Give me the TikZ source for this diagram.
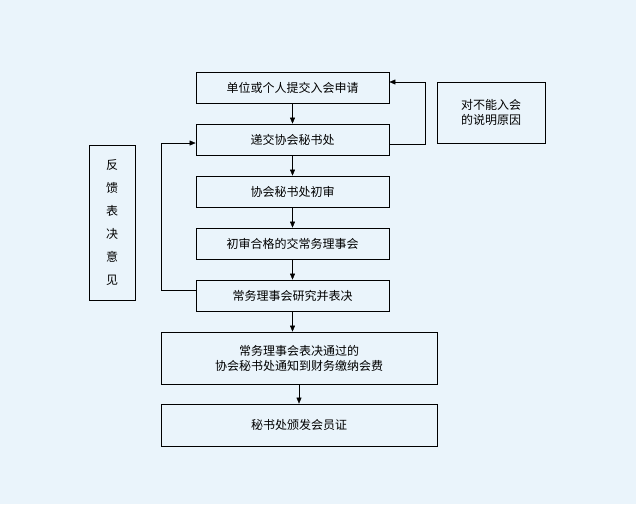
\documentclass[tikz,border=0pt]{standalone}
\usepackage{fontspec}
\newfontfamily\cjk{Noto Sans CJK SC}
\usetikzlibrary{positioning,arrows.meta}
\definecolor{bgcolor}{RGB}{234,244,251}

\begin{document}
\begin{tikzpicture}[
    x=1pt, y=-1pt,
    box/.style={draw, thick, fill=bgcolor, minimum height=31pt, font=\cjk\fontsize{12}{15}\selectfont, align=center},
    nbox/.style={box, minimum width=193pt},
    wbox/.style={box, minimum width=276pt},
    edge/.style={-{Triangle[length=6pt,width=5pt]}, thin},
    line/.style={thin}
]
    \fill[bgcolor] (0,0) rectangle (636,504);
    \useasboundingbox (0,0) rectangle (636,504);

    % Main column
    \node[nbox] (s1) at (292.5, 87.5) {单位或个人提交入会申请};
    \node[nbox] (s2) at (292.5, 139.5) {递交协会秘书处};
    \node[nbox] (s3) at (292.5, 191.5) {协会秘书处初审};
    \node[nbox] (s4) at (292.5, 243.5) {初审合格的交常务理事会};
    \node[nbox] (s5) at (292.5, 295.5) {常务理事会研究并表决};
    \node[wbox, minimum height=52pt] (s6) at (299, 358) {常务理事会表决通过的\\协会秘书处通知到财务缴纳会费};
    \node[wbox, minimum height=42pt] (s7) at (299, 425) {秘书处颁发会员证};

    % Side notes
    \node[box, minimum width=108pt, minimum height=61pt] (r1) at (491, 112.5) {对不能入会\\的说明原因};
    \node[box, minimum width=46pt, minimum height=155pt, font=\cjk\fontsize{12}{23}\selectfont] (l1) at (112, 222.5) {反\\馈\\表\\决\\意\\见};

    % Vertical flow
    \draw[edge] (s1) -- (s2);
    \draw[edge] (s2) -- (s3);
    \draw[edge] (s3) -- (s4);
    \draw[edge] (s4) -- (s5);
    \draw[edge] (s5.south) -- (s6.north -| s5.south);
    \draw[edge] (s6) -- (s7);

    % Loops
    \coordinate (rt) at (425, 82);
    \coordinate (lt) at (161, 143);
    \draw[edge] (s2.east |- 0,144) -| (rt) -- (s1.east |- rt);
    \draw[edge] (s5.west |- 0,290) -| (lt) -- (s2.west |- lt);
\end{tikzpicture}
\end{document}
